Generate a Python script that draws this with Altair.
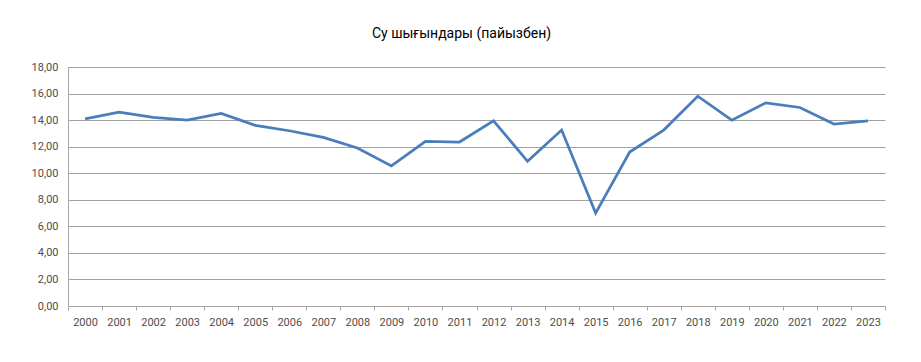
import altair as alt
import pandas as pd

years = [str(y) for y in range(2000, 2024)]
values = [14.1, 14.6, 14.2, 14.0, 14.5, 13.6, 13.2, 12.7, 11.9, 10.55, 12.4, 12.35,
          13.95, 10.9, 13.25, 7.0, 11.6, 13.25, 15.8, 14.0, 15.3, 14.95, 13.7, 13.95]
title_text = "Су шығындары (пайызбен)"

df = pd.DataFrame({"year": years, "value": values})

chart = alt.Chart(df, title=alt.Title(title_text, fontSize=14, fontWeight="normal",
                                      font="Roboto", color="#000000", offset=20,
                                      anchor="middle", dx=-15)).mark_line(
    color="#4a7ebb", strokeWidth=2.75
).encode(
    x=alt.X("year:O", title=None, sort=years,
            scale=alt.Scale(type="band", paddingInner=0, paddingOuter=0),
            bandPosition=0.5,
            axis=alt.Axis(labelAngle=0, tickBand="extent", domainColor="#a6a6a6",
                          tickColor="#a6a6a6", tickSize=4, labelPadding=6,
                          labelFont="Roboto", labelFontSize=11, labelColor="#4d4d4d",
                          grid=False)),
    y=alt.Y("value:Q", title=None,
            scale=alt.Scale(domain=[0, 18], nice=False),
            axis=alt.Axis(values=list(range(0, 20, 2)),
                          labelExpr="replace(format(datum.value, '.2f'), '.', ',')",
                          domainColor="#a6a6a6", ticks=False, labelPadding=10,
                          labelFont="Roboto", labelFontSize=11, labelColor="#4d4d4d",
                          gridColor="#a0a0a0", gridWidth=1)),
).properties(
    width=817, height=239,
    autosize=alt.AutoSizeParams(type="none"),
    padding={"left": 60, "top": 59, "right": 20, "bottom": 40},
).configure_view(stroke=None)

chart.save("out.html", embed_options={"renderer": "svg", "actions": False})
